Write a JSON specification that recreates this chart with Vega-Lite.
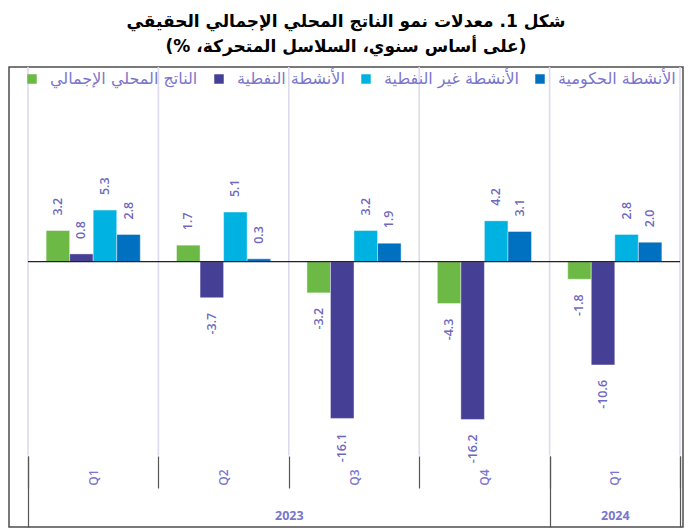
{
  "$schema": "https://vega.github.io/schema/vega-lite/v6.json",
  "width": 674,
  "height": 460,
  "autosize": {"type": "none"},
  "padding": {"left": 9, "top": 67, "right": 13, "bottom": 5},
  "background": "white",
  "config": {
    "font": "DejaVu Sans",
    "view": {"stroke": "#4d4d4d", "strokeWidth": 1.5},
    "locale": {"number": {"decimal": ".", "thousands": ",", "grouping": [3], "currency": ["$", ""], "minus": "-"}}
  },
  "title": {
    "text": ["\u200fشكل 1. معدلات نمو الناتج المحلي الإجمالي الحقيقي\u200f", "\u200f(على أساس سنوي، السلاسل المتحركة، %)\u200f"],
    "fontSize": 17,
    "fontWeight": "bold",
    "color": "#000000",
    "anchor": "middle",
    "frame": "group",
    "offset": 10,
    "lineHeight": 25,
    "font": "DejaVu Sans"
  },
  "datasets": {
    "growth": [
      {"period": "2023-Q1", "series": "الناتج المحلي الإجمالي", "value": 3.2},
      {"period": "2023-Q1", "series": "الأنشطة النفطية", "value": 0.8},
      {"period": "2023-Q1", "series": "الأنشطة غير النفطية", "value": 5.3},
      {"period": "2023-Q1", "series": "الأنشطة الحكومية", "value": 2.8},
      {"period": "2023-Q2", "series": "الناتج المحلي الإجمالي", "value": 1.7},
      {"period": "2023-Q2", "series": "الأنشطة النفطية", "value": -3.7},
      {"period": "2023-Q2", "series": "الأنشطة غير النفطية", "value": 5.1},
      {"period": "2023-Q2", "series": "الأنشطة الحكومية", "value": 0.3},
      {"period": "2023-Q3", "series": "الناتج المحلي الإجمالي", "value": -3.2},
      {"period": "2023-Q3", "series": "الأنشطة النفطية", "value": -16.1},
      {"period": "2023-Q3", "series": "الأنشطة غير النفطية", "value": 3.2},
      {"period": "2023-Q3", "series": "الأنشطة الحكومية", "value": 1.9},
      {"period": "2023-Q4", "series": "الناتج المحلي الإجمالي", "value": -4.3},
      {"period": "2023-Q4", "series": "الأنشطة النفطية", "value": -16.2},
      {"period": "2023-Q4", "series": "الأنشطة غير النفطية", "value": 4.2},
      {"period": "2023-Q4", "series": "الأنشطة الحكومية", "value": 3.1},
      {"period": "2024-Q1", "series": "الناتج المحلي الإجمالي", "value": -1.8},
      {"period": "2024-Q1", "series": "الأنشطة النفطية", "value": -10.6},
      {"period": "2024-Q1", "series": "الأنشطة غير النفطية", "value": 2.8},
      {"period": "2024-Q1", "series": "الأنشطة الحكومية", "value": 2.0}
    ]
  },
  "layer": [
    {
      "data": {"name": "growth"},
      "layer": [
        {
          "transform": [{"filter": "datum.series == 'الناتج المحلي الإجمالي'"}],
          "mark": {"type": "rule", "color": "#dddaf0", "strokeWidth": 1.6},
          "encoding": {
            "x": {"field": "period", "type": "nominal", "bandPosition": 0},
            "y": {"datum": 20, "type": "quantitative", "axis": null},
            "y2": {"datum": -19.9}
          }
        },
        {
          "transform": [{"filter": "datum.series == 'الناتج المحلي الإجمالي' && datum.period == '2024-Q1'"}],
          "mark": {"type": "rule", "color": "#dddaf0", "strokeWidth": 1.6},
          "encoding": {
            "x": {"field": "period", "type": "nominal", "bandPosition": 1},
            "y": {"datum": 20, "type": "quantitative", "axis": null},
            "y2": {"datum": -19.9}
          }
        },
        {
          "mark": {"type": "bar", "stroke": "#ffffff", "strokeWidth": 0.6, "strokeOpacity": 0.7},
          "encoding": {
            "x": {
              "field": "period",
              "type": "nominal",
              "scale": {"range": [19, 671], "paddingInner": 0, "paddingOuter": 0},
              "axis": {
                "orient": "bottom",
                "offset": -71,
                "title": null,
                "domain": false,
                "grid": false,
                "tickBand": "extent",
                "tickSize": 32,
                "tickColor": "#555555",
                "tickWidth": 1.2,
                "labelAngle": 270,
                "labelExpr": "split(datum.label, '-')[1]",
                "labelPadding": -19,
                "labelFontSize": 12,
                "labelFontWeight": 600,
                "labelColor": "#7b76cc",
                "labelFont": "Open Sans"
              }
            },
            "xOffset": {
              "field": "series",
              "type": "nominal",
              "sort": ["الناتج المحلي الإجمالي", "الأنشطة النفطية", "الأنشطة غير النفطية", "الأنشطة الحكومية"],
              "scale": {"paddingOuter": 0.77, "paddingInner": 0}
            },
            "y": {
              "field": "value",
              "type": "quantitative",
              "scale": {"domain": [-27.25, 20], "nice": false, "zero": false},
              "axis": null
            },
            "color": {
              "field": "series",
              "type": "nominal",
              "scale": {
                "domain": ["الناتج المحلي الإجمالي", "الأنشطة النفطية", "الأنشطة غير النفطية", "الأنشطة الحكومية"],
                "range": ["#6cb946", "#463f96", "#00b2e2", "#0070c0"]
              },
              "legend": {
                "orient": "none",
                "legendX": 15,
                "legendY": 4,
                "direction": "horizontal",
                "title": null,
                "symbolType": "square",
                "symbolSize": 90,
                "symbolStrokeWidth": 0,
                "labelFontSize": 16,
                "labelColor": "#7b76cc",
                "labelFont": "DejaVu Sans",
                "labelOffset": 10,
                "columnPadding": 13,
                "labelLimit": 300,
                "padding": 0
              }
            }
          }
        },
        {
          "transform": [{"filter": "datum.value >= 0"}],
          "mark": {"type": "text", "angle": 270, "align": "left", "baseline": "middle", "dx": 15, "fontSize": 12.5, "fontWeight": 600, "color": "#6f68bf", "font": "Open Sans"},
          "encoding": {
            "x": {"field": "period", "type": "nominal"},
            "xOffset": {"field": "series", "type": "nominal", "sort": ["الناتج المحلي الإجمالي", "الأنشطة النفطية", "الأنشطة غير النفطية", "الأنشطة الحكومية"]},
            "y": {"field": "value", "type": "quantitative", "axis": null},
            "text": {"field": "value", "type": "quantitative", "format": ".1f"}
          }
        },
        {
          "transform": [{"filter": "datum.value < 0"}],
          "mark": {"type": "text", "angle": 270, "align": "right", "baseline": "middle", "dx": -15, "fontSize": 12.5, "fontWeight": 600, "color": "#6f68bf", "font": "Open Sans"},
          "encoding": {
            "x": {"field": "period", "type": "nominal"},
            "xOffset": {"field": "series", "type": "nominal", "sort": ["الناتج المحلي الإجمالي", "الأنشطة النفطية", "الأنشطة غير النفطية", "الأنشطة الحكومية"]},
            "y": {"field": "value", "type": "quantitative", "axis": null},
            "text": {"field": "value", "type": "quantitative", "format": ".1f"}
          }
        }
      ]
    },
    {
      "data": {"values": [{"k": 1}]},
      "mark": {"type": "rule", "color": "#222222", "strokeWidth": 1.2},
      "encoding": {
        "x": {
          "datum": 0,
          "type": "quantitative",
          "scale": {"domain": [0, 5], "range": [19, 671], "nice": false, "zero": false},
          "axis": {
            "orient": "bottom",
            "offset": -71,
            "title": null,
            "domain": false,
            "grid": false,
            "values": [0, 2, 4, 4.5, 5],
            "tickSize": 71,
            "tickWidth": 1.2,
            "tickColor": {"condition": {"test": "datum.value == 2 || datum.value == 4.5", "value": "transparent"}, "value": "#555555"},
            "labelExpr": "datum.value == 2 ? '2023' : (datum.value == 4.5 ? '2024' : '')",
            "labelAngle": 0,
            "labelAlign": "center",
            "labelBaseline": "middle",
            "labelPadding": -12,
            "labelFlush": false,
            "labelOverlap": false,
            "labelFontSize": 12.5,
            "labelFontWeight": "bold",
            "labelColor": "#7b76cc",
            "labelFont": "Open Sans"
          }
        },
        "x2": {"datum": 5},
        "y": {"datum": 0, "type": "quantitative", "axis": null}
      }
    }
  ],
  "resolve": {"scale": {"x": "independent"}, "axis": {"x": "independent"}}
}
